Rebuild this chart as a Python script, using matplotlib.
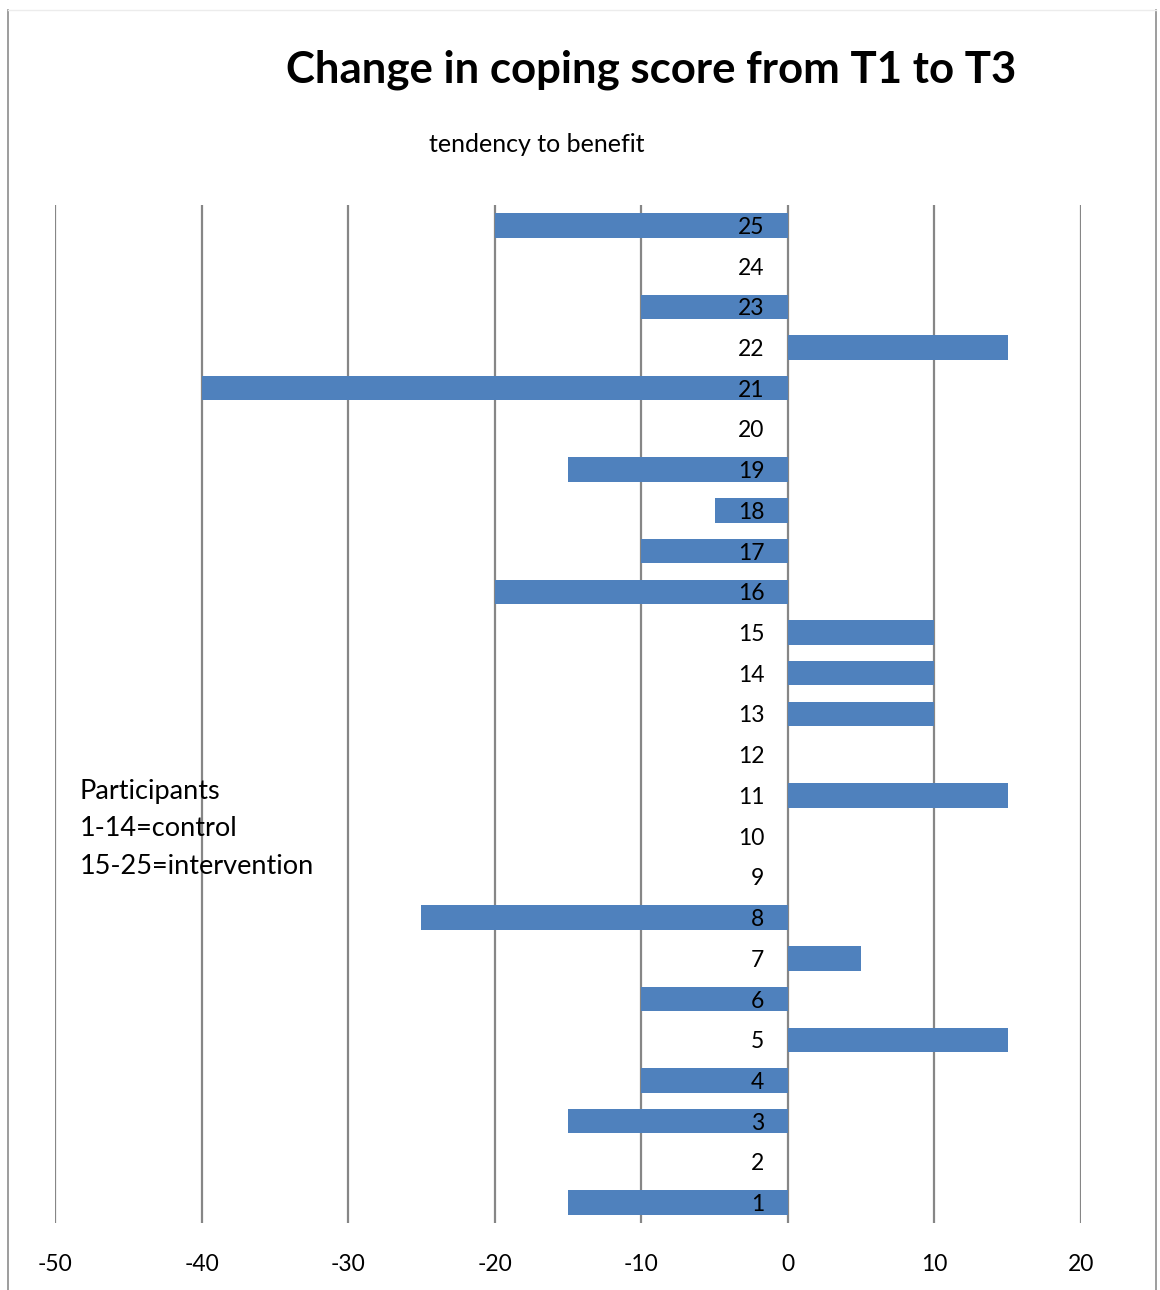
import numpy as np
import matplotlib.pyplot as plt
from matplotlib.lines import Line2D

plt.rcParams['font.family'] = ['Lato', 'DejaVu Sans']

# Participant numbers and change in coping score (T3 - T1)
participants = list(range(1, 26))
changes = [-15, 0, -15, -10, 15, -10, 5, -25, 0, 0,
           15, 0, 10, 10, 10, -20, -10, -5, -15, 0,
           -40, 15, -10, 0, -20]
x_ticks = [-50, -40, -30, -20, -10, 0, 10, 20]

bar_color = '#4F81BD'
grid_color = '#868686'

fig = plt.figure(figsize=(11.6, 12.9), dpi=100)
ax = fig.add_axes([55 / 1160, 1 - 1223 / 1290, 1026 / 1160, 1018 / 1290])

y = np.arange(len(participants))
ax.barh(y, changes, height=0.6, color=bar_color, zorder=1)

# vertical gridlines behind the bars
for t in x_ticks:
    ax.axvline(t, color=grid_color, linewidth=1.6, zorder=0)

ax.set_xlim(-50, 20)
ax.set_ylim(-0.5, len(participants) - 0.5)
ax.set_xticks(x_ticks)
ax.set_xticklabels([str(t) for t in x_ticks])
ax.set_yticks(y)
ax.set_yticklabels([str(p) for p in participants])

# category labels sit at x = 0, on top of the bars
ax.set_axisbelow(False)
ax.spines['left'].set_position(('data', 0))
for s in ['top', 'right', 'bottom', 'left']:
    ax.spines[s].set_visible(False)
ax.tick_params(axis='both', length=0, labelsize=16.5)
ax.tick_params(axis='x', pad=22)
ax.tick_params(axis='y', pad=17)

fig.text(651 / 1160, 1 - 70 / 1290, 'Change in coping score from T1 to T3',
         ha='center', va='center', fontsize=31.5, fontweight='bold')
fig.text(537 / 1160, 1 - 145 / 1290, 'tendency to benefit',
         ha='center', va='center', fontsize=18)
fig.text(80 / 1160, 1 - 829 / 1290, 'Participants\n1-14=control\n15-25=intervention',
         ha='left', va='center', fontsize=19.5, linespacing=1.65)

# chart frame
fig.add_artist(Line2D([8 / 1160, 8 / 1160], [0, 1 - 10 / 1290],
                      transform=fig.transFigure, color='#8c8c8c', linewidth=1.2))
fig.add_artist(Line2D([1156 / 1160, 1156 / 1160], [0, 1 - 10 / 1290],
                      transform=fig.transFigure, color='#8c8c8c', linewidth=1.2))
fig.add_artist(Line2D([8 / 1160, 1156 / 1160], [1 - 10 / 1290, 1 - 10 / 1290],
                      transform=fig.transFigure, color='#ececec', linewidth=1.0))

fig.savefig('out.png', dpi=100)
